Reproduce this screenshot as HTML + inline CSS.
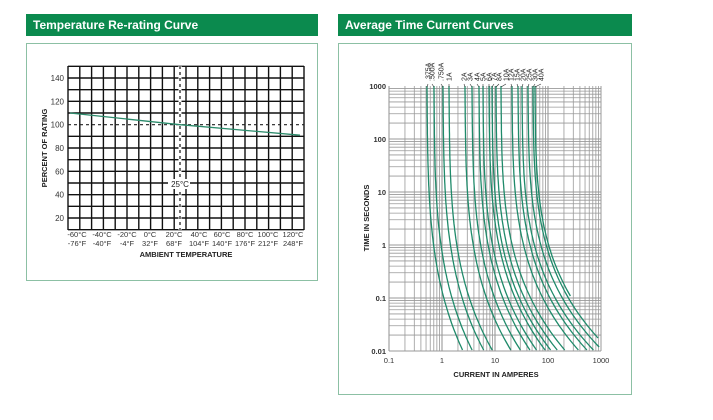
<!DOCTYPE html><html><head><style>
body{margin:0;width:713px;height:420px;background:#fff;overflow:hidden;font-family:"Liberation Sans",sans-serif}
.h{position:absolute;height:22px;background:#0b8a4e;color:#fff;font-weight:bold;font-size:12px;line-height:22px;padding-left:7px;box-sizing:border-box}
.p{position:absolute;border:1.5px solid #8cc0a4;box-sizing:border-box}
svg{position:absolute;left:0;top:0}
</style></head><body>
<div class="h" style="left:26px;top:14px;width:292px">Temperature Re-rating Curve</div>
<div class="p" style="left:26px;top:43px;width:292px;height:238px"></div>
<div class="h" style="left:338px;top:14px;width:294px">Average Time Current Curves</div>
<div class="p" style="left:338px;top:43px;width:294px;height:352px"></div>
<svg id="s" width="713" height="420" font-family="Liberation Sans, sans-serif"></svg>
<script>
var o='';
var L=68,R=304,T=66,B=230;
for(var i=0;i<=20;i++){var x=L+(R-L)*i/20;o+='<line x1="'+x+'" y1="'+T+'" x2="'+x+'" y2="'+B+'" stroke="#111" stroke-width="1.4"/>';}
function yv(v){return 78+(140-v)*140/120;}
for(var v=10;v<=150;v+=10){var y=yv(v);if(v==100)continue;o+='<line x1="'+L+'" y1="'+y+'" x2="'+R+'" y2="'+y+'" stroke="#111" stroke-width="1.4"/>';}
o+='<line x1="'+L+'" y1="'+yv(100)+'" x2="'+R+'" y2="'+yv(100)+'" stroke="#222" stroke-width="1.2" stroke-dasharray="3,3"/>';
o+='<line x1="180" y1="'+T+'" x2="180" y2="'+B+'" stroke="#fff" stroke-width="3"/><line x1="180" y1="'+T+'" x2="180" y2="'+B+'" stroke="#222" stroke-width="1.3" stroke-dasharray="3,3"/>';
o+='<rect x="168" y="179" width="22" height="10" fill="#fff"/><text x="180" y="187" font-size="8" text-anchor="middle" fill="#222">25°C</text>';
o+='<polyline points="70,'+yv(110)+' 180,'+yv(100)+' 300,'+yv(91)+'" fill="none" stroke="#2a8a6a" stroke-width="1.3"/>';
for(var v=20;v<=140;v+=20)o+='<text x="64" y="'+(yv(v)+3)+'" font-size="8" text-anchor="end" fill="#333">'+v+'</text>';
var c=['-60°C','-40°C','-20°C','0°C','20°C','40°C','60°C','80°C','100°C','120°C'],f=['-76°F','-40°F','-4°F','32°F','68°F','104°F','140°F','176°F','212°F','248°F'],xs=[77,102,127,150,174,199,222,245,268,293];
for(i=0;i<10;i++){o+='<text x="'+xs[i]+'" y="237" font-size="7.5" text-anchor="middle" fill="#333">'+c[i]+'</text><text x="'+xs[i]+'" y="246" font-size="7.5" text-anchor="middle" fill="#333">'+f[i]+'</text>';}
o+='<text x="186" y="257" font-size="7.5" font-weight="bold" text-anchor="middle" fill="#222">AMBIENT TEMPERATURE</text>';
o+='<text transform="translate(47,148) rotate(-90)" font-size="7.5" font-weight="bold" text-anchor="middle" fill="#222">PERCENT OF RATING</text>';
var X0=389,D=53,Y0=86,YB=351;
for(var d=0;d<4;d++)for(var k=1;k<10;k++){var x=X0+D*(d+Math.log10(k));o+='<line x1="'+x+'" y1="'+Y0+'" x2="'+x+'" y2="'+YB+'" stroke="#999" stroke-width="'+(k==1?1.1:0.8)+'"/>';}
o+='<line x1="'+(X0+4*D)+'" y1="'+Y0+'" x2="'+(X0+4*D)+'" y2="'+YB+'" stroke="#999"/>';
for(var d=0;d<5;d++)for(var k=1;k<10;k++){var y=YB-D*(d+Math.log10(k));if(y<Y0-0.5)continue;o+='<line x1="'+X0+'" y1="'+y+'" x2="'+(X0+4*D)+'" y2="'+y+'" stroke="#999" stroke-width="'+(k==1?1.1:0.8)+'"/>';}
var tl=['0.01','0.1','1','10','100','1000'];
for(i=0;i<6;i++)o+='<text x="386" y="'+(YB-D*i+3)+'" font-size="7.5" font-weight="bold" text-anchor="end" fill="#333">'+tl[i]+'</text>';
var xl=['0.1','1','10','100','1000'];
for(i=0;i<5;i++)o+='<text x="'+(X0+D*i)+'" y="363" font-size="7.5" text-anchor="middle" fill="#333">'+xl[i]+'</text>';
o+='<text x="496" y="377" font-size="7.5" font-weight="bold" text-anchor="middle" fill="#222">CURRENT IN AMPERES</text>';
o+='<text transform="translate(369,218) rotate(-90)" font-size="7.5" font-weight="bold" text-anchor="middle" fill="#222">TIME IN SECONDS</text>';
var names=['.375A','.500A','.750A','1A','2A','3A','4A','5A','6A','7A','8A','10A','12A','15A','20A','25A','30A','40A'];
var tops=[427,434,443,449,465,472,479,483,489,492,496,501,512,518,522,528,533,535];
var lab=[428,432,441,449,464,470,477,483,489,494,499,506,511,517,523,529,535,541];
for(i=0;i<18;i++){var kk=34+i*2.6,p='';var endY=YB;if(i==17)endY=297;
 for(var y=Y0;y<=endY;y+=3){var u=(y-Y0)/265;var x=tops[i]+kk*Math.pow(u,3.6)+2*u;if(x>600)break;p+=(p?' ':'')+x.toFixed(1)+','+y;}
 o+='<polyline points="'+p+'" fill="none" stroke="#1f8a6a" stroke-width="1.3"/>';
 o+='<line x1="'+lab[i]+'" y1="84" x2="'+tops[i]+'" y2="87" stroke="#333" stroke-width="0.6"/>';
 o+='<text transform="translate('+(lab[i]+2.5)+',81) rotate(-90)" font-size="7" fill="#222">'+names[i]+'</text>';}
document.getElementById('s').innerHTML=o;
</script></body></html>
